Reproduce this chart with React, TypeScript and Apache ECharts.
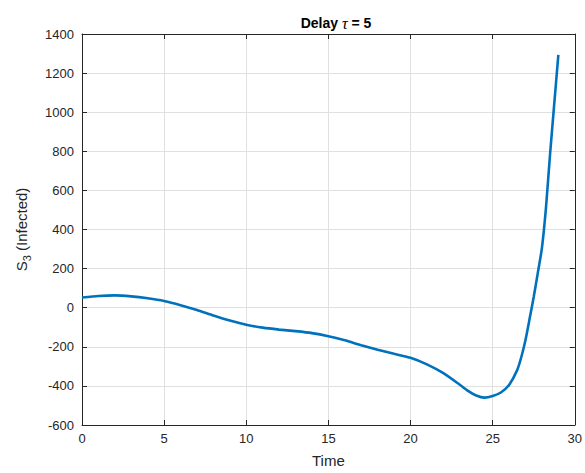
import React, { useEffect, useRef } from "react";
import * as echarts from "echarts";

const timePoints = [0, 1, 2, 3, 4, 5, 6, 7, 8, 9, 10, 11, 12, 13, 14, 15, 16, 17, 18, 19, 20, 21, 22, 23, 23.5, 24, 24.5, 25, 25.5, 26, 26.5, 26.75, 27, 27.25, 27.5, 27.75, 28, 28.25, 28.5, 29];
const s3Values = [52, 60, 63, 58, 48, 34, 13, -12, -40, -66, -87, -102, -112, -120, -130, -146, -167, -192, -215, -236, -256, -290, -335, -394, -425, -449, -460, -452, -434, -395, -318, -251, -165, -57, 55, 178, 305, 515, 790, 1293];

const xTicks = { min: 0, max: 30, interval: 5 };
const yTicks = { min: -600, max: 1400, interval: 200 };

const FONT = "'Liberation Sans', Arial, Helvetica, sans-serif";
const TXT = "#262626";

export default function App() {
  const ref = useRef<HTMLDivElement>(null);
  useEffect(() => {
    document.body.style.margin = "0";
    const chart = echarts.init(ref.current!, null, { renderer: "svg" });
    const data = timePoints.map((t, i) => [t, s3Values[i]]);
    const axisLine = { show: true, onZero: false, lineStyle: { color: TXT, width: 1 } };
    const tick = { show: true, inside: true, length: 5, lineStyle: { color: TXT } };
    chart.setOption({
      animation: false,
      backgroundColor: "#ffffff",
      title: {
        text: "{b|Delay }{t|τ}{b| = 5}",
        left: 331,
        top: 10,
        textAlign: "center",
        textStyle: {
          fontWeight: "bold",
          rich: {
            b: { fontFamily: FONT, fontWeight: "bold", fontSize: 14, color: "#000" },
            t: { fontFamily: "'Liberation Serif', 'DejaVu Serif', serif", fontStyle: "italic", fontWeight: "normal", fontSize: 16, color: "#000" },
          },
        },
      },
      grid: { left: 82, right: 4, top: 34, bottom: 46, containLabel: false },
      xAxis: [
        {
          type: "value",
          min: xTicks.min,
          max: xTicks.max,
          interval: xTicks.interval,
          position: "bottom",
          name: "Time",
          nameLocation: "middle",
          nameGap: 28,
          nameTextStyle: { fontFamily: FONT, fontSize: 15, color: TXT },
          axisLine,
          axisTick: tick,
          axisLabel: { fontFamily: FONT, fontSize: 13, color: TXT, margin: 7 },
          splitLine: { show: true, lineStyle: { color: "#e0e0e0", width: 1 } },
        },
        {
          type: "value",
          min: xTicks.min,
          max: xTicks.max,
          interval: xTicks.interval,
          position: "top",
          axisLine,
          axisTick: tick,
          axisLabel: { show: false },
          splitLine: { show: false },
        },
      ],
      yAxis: [
        {
          type: "value",
          min: yTicks.min,
          max: yTicks.max,
          interval: yTicks.interval,
          position: "left",
          name: "{a|S}{s|3}{a| (Infected)}",
          nameLocation: "middle",
          nameGap: 50,
          nameTextStyle: {
            fontFamily: FONT,
            fontSize: 15,
            color: TXT,
            rich: {
              a: { fontFamily: FONT, fontSize: 15, color: TXT, lineHeight: 22, verticalAlign: "middle" },
              s: { fontFamily: FONT, fontSize: 11, color: TXT, lineHeight: 22, verticalAlign: "bottom", padding: [10, 0, 0, 0] },
            },
          },
          axisLine,
          axisTick: tick,
          axisLabel: { fontFamily: FONT, fontSize: 13, color: TXT, margin: 8, formatter: (v: number) => String(v) },
          splitLine: { show: true, lineStyle: { color: "#e0e0e0", width: 1 } },
        },
        {
          type: "value",
          min: yTicks.min,
          max: yTicks.max,
          interval: yTicks.interval,
          position: "right",
          axisLine,
          axisTick: tick,
          axisLabel: { show: false },
          splitLine: { show: false },
        },
      ],
      series: [
        {
          type: "line",
          data,
          xAxisIndex: 0,
          yAxisIndex: 0,
          smooth: 0.2,
          symbol: "none",
          lineStyle: { color: "#0072BD", width: 2.6 },
        },
      ],
    });
    return () => chart.dispose();
  }, []);
  return <div ref={ref} style={{ width: 585, height: 473 }} />;
}
